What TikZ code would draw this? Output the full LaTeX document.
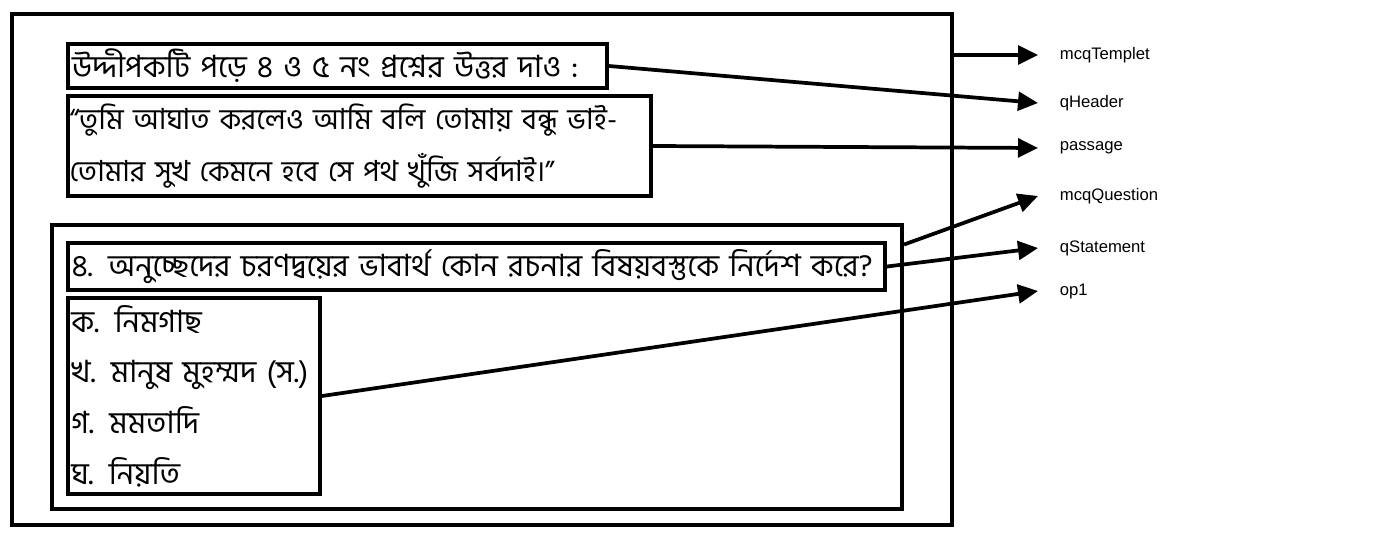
\documentclass[tikz,border=0pt]{standalone}
\usepackage{fontspec}
\setmainfont{Liberation Sans}
\newfontfamily\bangla[Script=Bengali]{Hind Siliguri}
\usetikzlibrary{arrows.meta,positioning}

\begin{document}
\begin{tikzpicture}[x=0.75pt,y=-0.75pt,->,>={Triangle[length=15pt,width=14pt]},line width=2.8pt,
                box/.style={draw,rectangle,line width=3pt,inner sep=0pt,align=left,
                  font=\bangla\fontsize{23}{38}\selectfont},
                tag/.style={anchor=west,inner xsep=15pt,inner ysep=0pt,font=\fontsize{12.5}{14}\selectfont}]
  \useasboundingbox (0,0) rectangle (1398,538);

  \node[box,minimum width=705pt,minimum height=383.25pt] (tmpl) at (482,269.5) {};
  \node[box,minimum width=637.5pt,minimum height=213pt] (mq) at (477,367) {};
  \node[box,minimum width=404.25pt,minimum height=33pt,text width=398pt] (hdr) at (337.5,66)
    {উদ্দীপকটি পড়ে ৪ ও ৫ নং প্রশ্নের উত্তর দাও :};
  \node[box,minimum width=437.25pt,minimum height=75pt,text width=435pt,
        font=\bangla\fontsize{21.8}{39}\selectfont] (psg) at (359.5,146)
    {“তুমি আঘাত করলেও আমি বলি তোমায় বন্ধু ভাই-\\তোমার সুখ কেমনে হবে সে পথ খুঁজি সর্বদাই।”};
  \node[box,minimum width=612.75pt,minimum height=35.25pt,text width=607pt] (qs) at (476.5,266.5)
    {৪. অনুচ্ছেদের চরণদ্বয়ের ভাবার্থ কোন রচনার বিষয়বস্তুকে নির্দেশ করে?};
  \node[box,minimum width=189pt,minimum height=147pt,text width=184pt] (opts) at (194,396)
    {ক. নিমগাছ\\খ. মানুষ মুহম্মদ (স.)\\গ. মমতাদি\\ঘ. নিয়তি};

  \node[tag] (lTmpl) at (1038,55) {mcqTemplet};
  \node[tag] (lHdr) at (1038,103) {qHeader};
  \node[tag] (lPsg) at (1038,148) {passage};
  \node[tag] (lMq) at (1038,196) {mcqQuestion};
  \node[tag] (lQs) at (1038,248) {qStatement};
  \node[tag] (lOp) at (1038,291) {op1};

  \path
    (tmpl.east |- lTmpl.west) edge (lTmpl.west)
    (hdr.east) edge (lHdr.west)
    (psg.east) edge (lPsg.west)
    (mq.16.6) edge (lMq.west)
    (qs.east) edge (lQs.west)
    (opts.east) edge (lOp.west)
  ;
\end{tikzpicture}
\end{document}
